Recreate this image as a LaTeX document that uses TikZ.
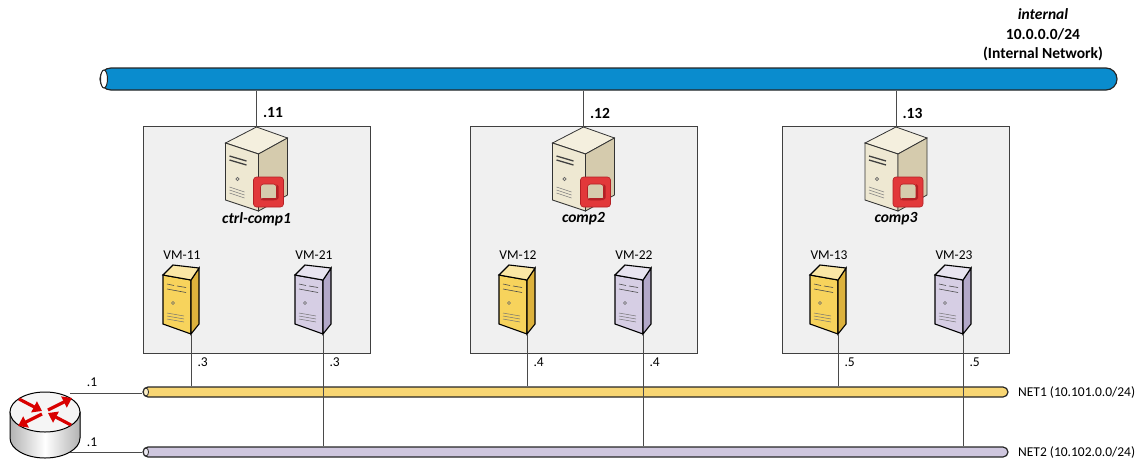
\documentclass[tikz,border=0pt]{standalone}
\usepackage{fontspec}
\setmainfont{Carlito}
\usetikzlibrary{positioning,arrows.meta}

\definecolor{netblue}{HTML}{0A8CCE}
\definecolor{netyellow}{HTML}{F8D673}
\definecolor{netlilac}{HTML}{CFC7DF}
\definecolor{boxgray}{HTML}{F0F0F0}
\definecolor{wire}{HTML}{4A4A4A}
\definecolor{vmyellow}{HTML}{F7D35C}
\definecolor{vmyellowside}{HTML}{DDB23C}
\definecolor{vmlilac}{HTML}{D6CEE4}
\definecolor{vmlilacside}{HTML}{B3A8C9}
\definecolor{srvtop}{HTML}{F4EFDE}
\definecolor{srvfront}{HTML}{EEE8D2}
\definecolor{srvside}{HTML}{D5CBAD}
\definecolor{logored}{HTML}{E2383A}
\definecolor{logodark}{HTML}{B32025}

\begin{document}
\begin{tikzpicture}
  [x=1pt, y=-1pt,
   wire/.style={draw=wire, line width=0.8pt},
   hostbox/.style={draw=black!75, fill=boxgray, line width=0.8pt, minimum width=227, minimum height=227},
   pipe/.style={draw=black!85, line width=1.2pt, inner sep=0pt},
   txt/.style={font=\fontsize{13.5}{16}\selectfont},
   addr/.style={font=\fontsize{15.5}{19.5}\selectfont\bfseries},
   hostname/.style={font=\fontsize{15.5}{18}\selectfont\bfseries\itshape},
   pics/server/.style={code={
     \coordinate (-top) at (0,0);
     \filldraw[draw=black!80, line width=0.8pt, fill=srvtop] (0,0) -- (31,11) -- (2,27) -- (-31,16) -- cycle;
     \filldraw[draw=black!80, line width=0.8pt, fill=srvfront] (-31,16) -- (2,27) -- (2,84) -- (-31,73) -- cycle;
     \filldraw[draw=black!80, line width=0.8pt, fill=srvside] (2,27) -- (31,11) -- (31,68) -- (2,84) -- cycle;
     \draw[black!75, line width=1.3pt] (-27,29) -- (-10,34) (-27,33) -- (-10,38);
     \draw[black!60, line width=0.6pt] (-19,52) circle (1.6);
     \draw[black!50, line width=0.6pt] (-27,60) -- (-12,65) (-27,63) -- (-12,68) (-27,66) -- (-12,71);
     \filldraw[draw=logodark, line width=0.6pt, fill=logored, rounded corners=3, even odd rule]
       (-3,50) rectangle (27,80) (4,57) rectangle (20,73);
     \fill[logodark] (20,57) -- (22,59) -- (22,71) -- (20,73) -- cycle;
     \fill[logodark] (4,73) -- (6,71) -- (20,71) -- (20,73) -- cycle;
   }},
   pics/vmbox/.style n args={2}{code={
     \coordinate (-port) at (28,69);
     \filldraw[draw=black, line width=1.1pt, fill=#1] (0,10) -- (28,15) -- (28,69) -- (0,59) -- cycle;
     \filldraw[draw=black, line width=1.1pt, fill=#2] (28,15) -- (36,3) -- (36,59) -- (28,69) -- cycle;
     \filldraw[draw=black, line width=1.1pt, fill=#1!55!white] (0,10) -- (10,0) -- (36,3) -- (28,15) -- cycle;
     \draw[black!70, line width=0.6pt] (4,19) -- (11,20.5) (14,21) -- (23,22.5) (4,24) -- (23,27.5);
     \draw[black!60, line width=0.5pt] (10,38) circle (1.5);
     \draw[black!55, line width=0.5pt] (4,48) -- (21,51) (4,51) -- (21,54) (4,54) -- (21,57);
   }}]
  \useasboundingbox (0,0) rectangle (1140,461);

  % networks
  \node[pipe, fill=netblue, minimum width=1017, minimum height=22, rounded corners=11] (internal) at (608.5,79) {};
  \filldraw[draw=black!85, line width=1pt, fill=white] (104,79) ellipse [x radius=3.5, y radius=9];
  \node[pipe, fill=netyellow, minimum width=865, minimum height=10, rounded corners=5] (net1) at (575.5,392) {};
  \filldraw[draw=black!85, line width=0.8pt, fill=netyellow!40!white] (146,392) ellipse [x radius=2.5, y radius=4];
  \node[pipe, fill=netlilac, minimum width=865, minimum height=10, rounded corners=5] (net2) at (575.5,452) {};
  \filldraw[draw=black!85, line width=0.8pt, fill=netlilac!40!white] (146,452) ellipse [x radius=2.5, y radius=4];

  \node[addr, align=center] (intlabel) at (1043,35) {\textit{internal}\\10.0.0.0/24\\(Internal Network)};
  \node[txt, anchor=west, right=6 of net1] (net1label) {NET1 (10.101.0.0/24)};
  \node[txt, anchor=west, right=6 of net2] (net2label) {NET2 (10.102.0.0/24)};

  % compute hosts
  \foreach \bx/\n/\name/\ip in {256.5/1/ctrl-comp1/.11, 583.5/2/comp2/.12, 896/3/comp3/.13} {
    \node[hostbox] (box\n) at (\bx,239.5) {};
    \pic (host\n) at (\bx,127) {server};
    \node[hostname] (name\n) at (\bx,219) {\name};
    \draw[wire] (host\n-top) -- (host\n-top |- internal.south);
    \node[addr, anchor=west] (ip\n) at ([shift={(3,-14)}]host\n-top) {\ip};
  }

  % virtual machines
  \foreach \lx/\id/\front/\side/\net/\ip in {191/11/vmyellow/vmyellowside/net1/.3, 323/21/vmlilac/vmlilacside/net2/.3,
                                             527/12/vmyellow/vmyellowside/net1/.4, 643/22/vmlilac/vmlilacside/net2/.4,
                                             838/13/vmyellow/vmyellowside/net1/.5, 963/23/vmlilac/vmlilacside/net2/.5} {
    \pic (vm\id) at (\lx-28,265) {vmbox={\front}{\side}};
    \node[txt] (vmlabel\id) at (\lx-9,255) {VM-\id};
    \draw[wire] (vm\id-port) -- (vm\id-port |- \net.north);
    \node[txt, anchor=west] (vmip\id) at (\lx+3,362) {\ip};
  }

  % router
  \begin{scope}[shift={(45,412)}]
    \filldraw[draw=black, line width=1pt, left color=black!30, right color=black!30, middle color=white]
      (-35,0) -- (-35,26) arc[start angle=180, end angle=0, x radius=35, y radius=20] -- (35,0) -- cycle;
    \filldraw[draw=black, line width=1pt, fill=black!4] (0,0) ellipse [x radius=35, y radius=20];
    \foreach \ax/\ay/\bx/\by in {3/-2/27/-14, -3/2/-27/14, -26/-13/-3/-1, 26/13/3/1}
      \draw[red!85!black, line width=3.2pt, -{Triangle[length=9pt, width=12pt]}] (\ax,\ay) -- (\bx,\by);
    \coordinate (router-up) at (25,-19);
    \coordinate (router-down) at (25,40);
  \end{scope}
  \node[txt] (rip1) at (92,382) {.1};
  \node[txt] (rip2) at (92,442) {.1};
  \draw[wire] (router-up) -- (router-up -| net1.west);
  \draw[wire] (router-down) -- (router-down -| net2.west);
\end{tikzpicture}
\end{document}
